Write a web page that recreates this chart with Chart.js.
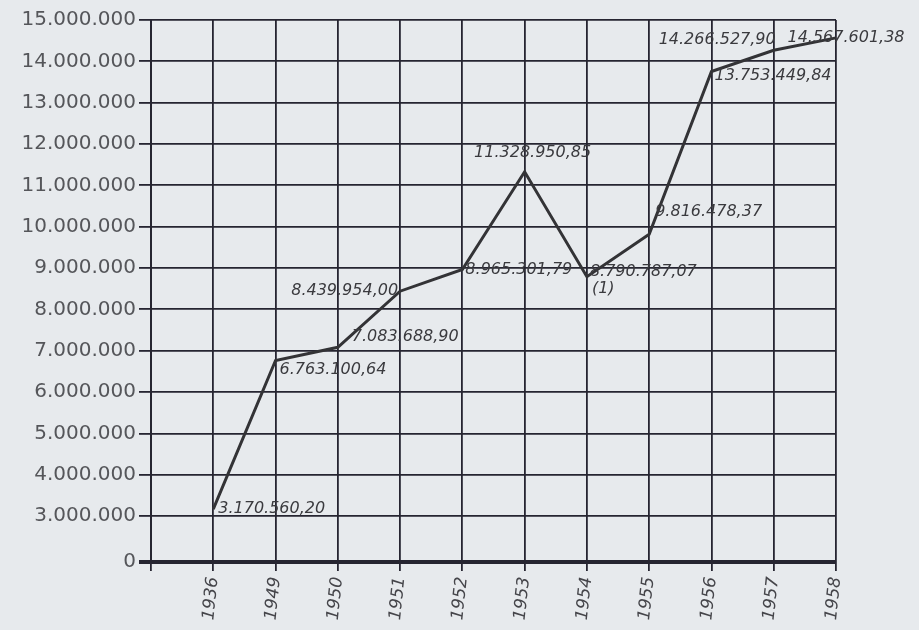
<!DOCTYPE html>
<html>
<head>
<meta charset="utf-8">
<script src="https://cdn.jsdelivr.net/npm/chart.js@4.4.1/dist/chart.umd.min.js"></script>
<style>
  html, body { margin: 0; padding: 0; background: #e7eaed; }
  #wrap { width: 919px; height: 630px; }
</style>
</head>
<body>
<div id="wrap"><canvas id="growthChart"></canvas></div>
<script>
// categories (first slot is the empty column before 1936)
const years = ["", "1936", "1949", "1950", "1951", "1952", "1953", "1954", "1955", "1956", "1957", "1958"];

// values written beside each point
const amounts = [null, 3170560.20, 6763100.64, 7083688.90, 8439954.00, 8965301.79,
  11328950.85, 8790787.07, 9816478.37, 13753449.84, 14266527.90, 14567601.38];

// footnote marks under a value
const notes = ["", "", "", "", "", "", "", "(1)", "", "", "", ""];

// y axis: broken below 3.000.000, bottom line reads "0"
const yTicks = [3000000, 4000000, 5000000, 6000000, 7000000, 8000000, 9000000,
  10000000, 11000000, 12000000, 13000000, 14000000, 15000000];
const yBreak = 1890000;

// where each value label sits relative to its point: [dx, dy, align]
const labelPlace = [
  null,
  [5, 0, "left"],
  [4, 9, "left"],
  [14, -10, "left"],
  [-2, 0, "right"],
  [3, 0, "left"],
  [8, -19, "center"],
  [3, -5, "left"],
  [6, -22, "left"],
  [3, 4, "left"],
  [2, -10, "right"],
  [10, 0, "center"]
];

function dots(n) {
  return String(n).replace(/\B(?=(\d{3})+(?!\d))/g, ".");
}

function money(v) {
  const whole = Math.floor(v);
  const cents = Math.round((v - whole) * 100);
  return dots(whole) + "," + String(cents).padStart(2, "0");
}

const gridColor = "#262531";

const valueLabels = {
  id: "valueLabels",
  afterDatasetsDraw(chart) {
    const ctx = chart.ctx;
    const meta = chart.getDatasetMeta(0);
    ctx.save();
    ctx.font = "italic 16px 'DejaVu Sans', sans-serif";
    ctx.fillStyle = "#3a3a3e";
    ctx.textBaseline = "middle";
    meta.data.forEach((pt, i) => {
      if (amounts[i] == null) return;
      const p = labelPlace[i];
      ctx.textAlign = p[2];
      ctx.fillText(money(amounts[i]), pt.x + p[0], pt.y + p[1]);
      if (notes[i]) {
        ctx.textAlign = "left";
        ctx.fillText(notes[i], pt.x + p[0] + 2, pt.y + p[1] + 17);
      }
    });
    ctx.restore();
  }
};

const growthCtx = document.getElementById("growthChart");
if (growthCtx) {
  new Chart(growthCtx, {
    type: "line",
    data: {
      labels: years,
      datasets: [{
        data: amounts,
        borderColor: "#333336",
        borderWidth: 3,
        pointRadius: 0,
        tension: 0,
        spanGaps: false
      }]
    },
    options: {
      responsive: true,
      maintainAspectRatio: false,
      animation: false,
      layout: { padding: { top: 20, right: 83, left: 0, bottom: 0 } },
      plugins: {
        legend: { display: false },
        tooltip: { enabled: false }
      },
      scales: {
        x: {
          offset: false,
          afterFit(scale) { scale.height = 68; },
          grid: {
            color: gridColor,
            lineWidth: 1.8,
            tickLength: 9,
            drawOnChartArea: true
          },
          border: { color: gridColor, width: 4 },
          ticks: {
            minRotation: 84,
            maxRotation: 84,
            autoSkip: false,
            padding: 5,
            color: "#45454a",
            font: { family: "'DejaVu Sans', sans-serif", size: 17, style: "italic" }
          }
        },
        y: {
          min: yBreak,
          max: 15000000,
          afterFit(scale) { scale.width = 151; },
          afterBuildTicks(scale) {
            scale.ticks = [yBreak].concat(yTicks).map(v => ({ value: v }));
          },
          grid: {
            color: gridColor,
            lineWidth: ctx => (ctx.index === 0 ? 4 : 1.8),
            tickLength: 12
          },
          border: { color: gridColor, width: 2 },
          ticks: {
            padding: 3,
            color: "#55565a",
            font: { family: "'DejaVu Sans', sans-serif", size: 20 },
            callback: v => (v === yBreak ? "0" : dots(v))
          }
        }
      }
    },
    plugins: [valueLabels]
  });
}
</script>
</body>
</html>
